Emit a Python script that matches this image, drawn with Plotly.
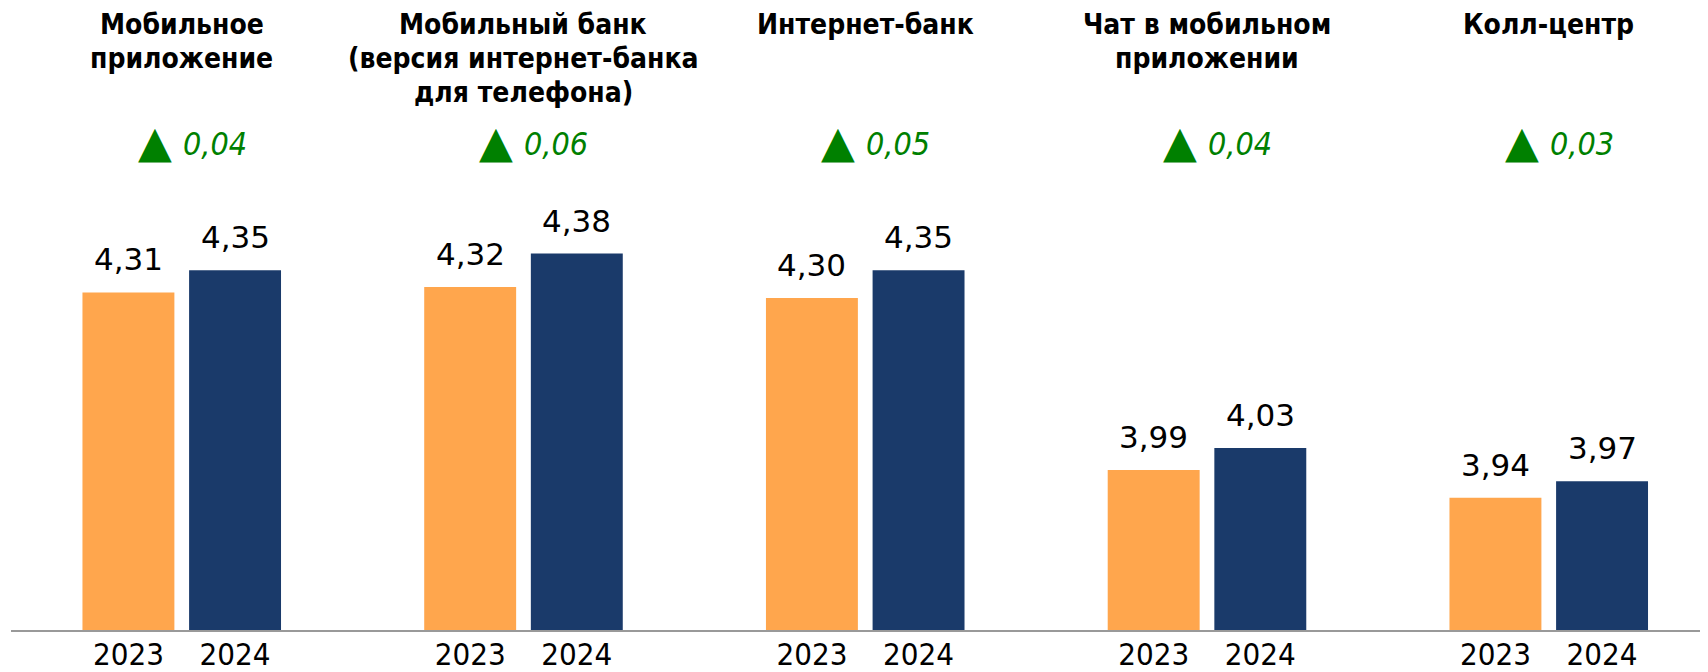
import plotly.graph_objects as go

# ---- data ----
categories = [
    ["Мобильное", "приложение"],
    ["Мобильный банк", "(версия интернет-банка", "для телефона)"],
    ["Интернет-банк"],
    ["Чат в мобильном", "приложении"],
    ["Колл-центр"],
]
years = ["2023", "2024"]
values_2023 = [4.31, 4.32, 4.30, 3.99, 3.94]
values_2024 = [4.35, 4.38, 4.35, 4.03, 3.97]
deltas = ["0,04", "0,06", "0,05", "0,04", "0,03"]

# ---- style ----
ORANGE = "#FFA64D"
NAVY = "#1A3A6A"
GREEN = "#008000"
OFFSET = 0.156
BARW = 0.269
REG = "DejaVu Sans"
COND = "DejaVu Sans Condensed, DejaVu Sans"

def fmt(v):
    return f"{v:.2f}".replace(".", ",")

n = len(categories)
idx = list(range(n))
x23 = [i - OFFSET for i in idx]
x24 = [i + OFFSET for i in idx]

fig = go.Figure()
fig.add_trace(go.Bar(x=x23, y=values_2023, width=BARW, marker=dict(color=ORANGE, line=dict(width=0)),
                     name=years[0], hoverinfo="skip"))
fig.add_trace(go.Bar(x=x24, y=values_2024, width=BARW, marker=dict(color=NAVY, line=dict(width=0)),
                     name=years[1], hoverinfo="skip"))

ann = []
# value labels
for xs, vs in ((x23, values_2023), (x24, values_2024)):
    for x, v in zip(xs, vs):
        ann.append(dict(x=x, y=v, xref="x", yref="y", text=fmt(v), showarrow=False,
                        xanchor="center", yanchor="bottom", yshift=13,
                        font=dict(family=REG, size=31, color="#000000")))
# titles
for i, lines in enumerate(categories):
    for k, line in enumerate(lines):
        ann.append(dict(x=i, y=1, xref="x", yref="paper", text=f"<b>{line}</b>", showarrow=False,
                        xanchor="center", yanchor="top", yshift=2 - 34 * k,
                        font=dict(family=COND, size=28, color="#000000")))
# deltas
for i, d in enumerate(deltas):
    ann.append(dict(x=i, y=1, xref="x", yref="paper", text="▲", showarrow=False,
                    xanchor="right", yanchor="top", xshift=-8, yshift=-106,
                    font=dict(family=REG, size=44, color=GREEN)))
    ann.append(dict(x=i, y=1, xref="x", yref="paper", text=f"<i>{d}</i>", showarrow=False,
                    xanchor="left", yanchor="top", xshift=-1, yshift=-115,
                    font=dict(family=COND, size=32, color=GREEN)))

tickvals = []
ticktext = []
for i in idx:
    tickvals += [x23[i], x24[i]]
    ticktext += years

fig.update_layout(
    width=1700, height=664,
    margin=dict(l=3, r=0, t=0, b=40),
    paper_bgcolor="white", plot_bgcolor="white",
    showlegend=False, barmode="overlay",
    annotations=ann,
    xaxis=dict(range=[-0.4996, 4.466], tickvals=tickvals, ticktext=ticktext,
               showgrid=False, zeroline=False, showline=True, linecolor="#999999", linewidth=2,
               ticks="", ticklabelstandoff=-4,
               tickfont=dict(family=COND, size=31, color="#000000")),
    yaxis=dict(range=[3.702, 4.8223], visible=False, showgrid=False, zeroline=False),
)

fig.write_html("out.html")
